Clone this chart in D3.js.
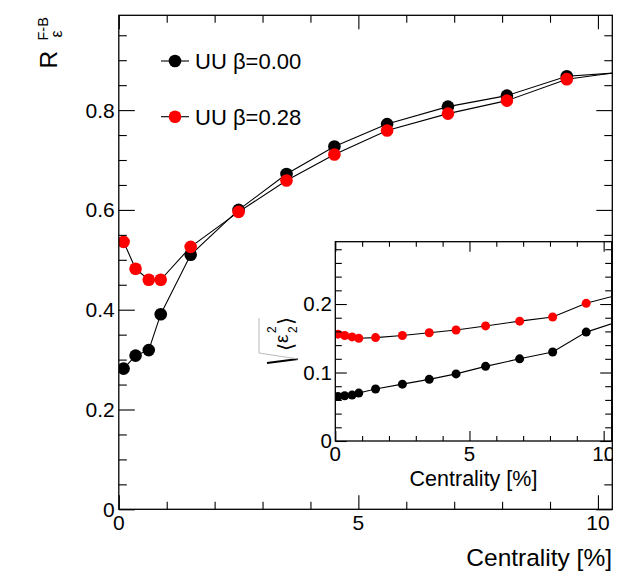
<!DOCTYPE html>
<html lang="en">

<head>
    <meta charset="UTF-8">
    <title>R F-B vs centrality</title>

    <script src="https://d3js.org/d3.v7.min.js"></script>

    <style>
        body {
            margin: 0;
            background: #fff;
        }

        text {
            font-family: "Liberation Sans", Arial, sans-serif;
            fill: #000;
        }
    </style>

</head>

<body>
    <svg width="623" height="587"></svg>

    <script>
        // centrality bins (last one sits just past the frame and is clipped)
        const centrality = [0.1, 0.35, 0.625, 0.875, 1.5, 2.5, 3.5, 4.5, 5.6, 6.87, 8.1, 9.35, 10.6];

        // forward-backward eccentricity correlation
        const rfbBeta000 = [0.282, 0.308, 0.319, 0.391, 0.510, 0.600, 0.672, 0.727, 0.772, 0.807, 0.829, 0.868, 0.876];
        const rfbBeta028 = [0.536, 0.482, 0.460, 0.460, 0.526, 0.596, 0.659, 0.711, 0.759, 0.793, 0.819, 0.862, 0.878];

        // inset: sqrt(<eps_2^2>)
        const eccBeta000 = [0.065, 0.066, 0.067, 0.070, 0.076, 0.083, 0.090, 0.098, 0.109, 0.120, 0.130, 0.159, 0.175];
        const eccBeta028 = [0.156, 0.154, 0.152, 0.150, 0.151, 0.154, 0.158, 0.162, 0.168, 0.175, 0.181, 0.201, 0.214];

        const legendLabels = ["UU \u03b2=0.00", "UU \u03b2=0.28"];
        const seriesColors = ["#000000", "#ff0000"];

        const mainYTicks = [0, 0.2, 0.4, 0.6, 0.8];
        const insetYTicks = [0, 0.1, 0.2];
        const xTicks = [0, 5, 10];

        let svg = d3.select("svg");

        function fmtY(d) { return d === 0 ? "0" : d3.format(".1f")(d); }

        // frame with ROOT-style ticks on all four sides
        function drawFrame(g, x, y, o) {
            const [x0, x1] = x.range();
            const [y0, y1] = y.range();

            g.append("rect")
                .attr("x", x0).attr("y", y1)
                .attr("width", x1 - x0).attr("height", y0 - y1)
                .attr("fill", o.fill || "none")
                .attr("stroke", "#000").attr("stroke-width", 1.3);

            const xMinor = d3.range(0, 11, 1).filter(v => xTicks.indexOf(v) < 0);
            const yMinor = d3.range(0, y.domain()[1], o.yMinorStep)
                .map(v => +v.toFixed(3))
                .filter(v => o.yTicks.indexOf(v) < 0);

            const sides = [
                [d3.axisBottom, x, y0, o.xMaj, o.xMin, xTicks, xMinor],
                [d3.axisTop, x, y1, o.xMaj, o.xMin, xTicks, xMinor],
                [d3.axisLeft, y, x0, o.yMaj, o.yMin, o.yTicks, yMinor],
                [d3.axisRight, y, x1, o.yMaj, o.yMin, o.yTicks, yMinor]
            ];
            sides.forEach(function (s) {
                const horiz = s[0] === d3.axisBottom || s[0] === d3.axisTop;
                [[s[5], s[3]], [s[6], s[4]]].forEach(function (t) {
                    const ax = g.append("g")
                        .attr("transform", horiz ? `translate(0,${s[2]})` : `translate(${s[2]},0)`)
                        .call(s[0](s[1]).tickValues(t[0]).tickSizeInner(-t[1])
                            .tickSizeOuter(0).tickFormat(""));
                    ax.select(".domain").remove();
                    ax.selectAll("line").attr("stroke", "#000").attr("stroke-width", 1.1);
                });
            });

            // labels
            g.append("g").attr("clip-path", o.clip)
                .selectAll("text.xl").data(xTicks).enter().append("text")
                .attr("x", d => x(d)).attr("y", y0 + o.xLabelDy)
                .attr("text-anchor", "middle")
                .attr("font-size", o.labelSize)
                .text(d => d);

            g.selectAll("text.yl").data(o.yTicks).enter().append("text")
                .attr("x", x0 - o.yLabelDx).attr("y", d => y(d) + o.labelSize * 0.36)
                .attr("text-anchor", "end")
                .attr("font-size", o.labelSize)
                .text(fmtY);
        }

        function drawSeries(g, x, y, xs, ys, color, r) {
            const pts = xs.map((v, i) => [v, ys[i]]);
            const line = d3.line().x(d => x(d[0])).y(d => y(d[1]));
            g.append("path")
                .attr("d", line(pts))
                .attr("fill", "none")
                .attr("stroke", "#000")
                .attr("stroke-width", 1.1);
            g.selectAll(null).data(pts).enter().append("circle")
                .attr("cx", d => x(d[0])).attr("cy", d => y(d[1]))
                .attr("r", r)
                .attr("fill", color);
        }

        // ---------------- main pad ----------------
        const x = d3.scaleLinear().domain([0, 10.3]).range([118.8, 612.3]);
        const y = d3.scaleLinear().domain([0, 0.99]).range([509.3, 15.3]);

        svg.append("clipPath").attr("id", "mainClip").append("rect")
            .attr("x", 118.8).attr("y", 15.3).attr("width", 493.5).attr("height", 494);

        let main = svg.append("g");
        let mainData = main.append("g").attr("clip-path", "url(#mainClip)");
        drawSeries(mainData, x, y, centrality, rfbBeta000, seriesColors[0], 6.3);
        drawSeries(mainData, x, y, centrality, rfbBeta028, seriesColors[1], 6.3);

        drawFrame(main, x, y, {
            yTicks: mainYTicks, yMinorStep: 0.05,
            xMaj: 14, xMin: 7.5, yMaj: 16, yMin: 8,
            labelSize: 21, xLabelDy: 21, yLabelDx: 4
        });

        main.append("text")
            .attr("x", 612).attr("y", 566)
            .attr("text-anchor", "end")
            .attr("font-size", 24.5)
            .text("Centrality [%]");

        // y title R^{F-B}_{eps}
        let yTitle = main.append("g");
        yTitle.append("text").attr("transform", "translate(56.5,68.5) rotate(-90)")
            .attr("font-size", 24.5).text("R");
        yTitle.append("text").attr("transform", "translate(48,40.5) rotate(-90)")
            .attr("font-size", 14.5).text("F-B");
        yTitle.append("text").attr("transform", "translate(62,37.5) rotate(-90)")
            .attr("font-size", 16).text("\u03b5");

        // legend
        let legend = main.append("g");
        legendLabels.forEach(function (lab, i) {
            const ly = [61, 116.7][i];
            legend.append("line")
                .attr("x1", 161).attr("x2", 189).attr("y1", ly).attr("y2", ly)
                .attr("stroke", "#000").attr("stroke-width", 1.1);
            legend.append("circle").attr("cx", 175).attr("cy", ly).attr("r", 6.3)
                .attr("fill", seriesColors[i]);
            legend.append("text").attr("x", 195).attr("y", ly + 7.8)
                .attr("font-size", 22).text(lab);
        });

        // ---------------- inset pad ----------------
        const xi = d3.scaleLinear().domain([0, 10.3]).range([335.3, 611.7]);
        const yi = d3.scaleLinear().domain([0, 0.291]).range([441, 241.7]);

        svg.append("clipPath").attr("id", "insetClip").append("rect")
            .attr("x", 335.3).attr("y", 241.7).attr("width", 276.4).attr("height", 199.3);
        svg.append("clipPath").attr("id", "insetPad").append("rect")
            .attr("x", 250).attr("y", 230).attr("width", 362.5).attr("height", 300);

        let inset = svg.append("g");
        inset.append("rect")
            .attr("x", 335.3).attr("y", 241.7).attr("width", 276.4).attr("height", 199.3)
            .attr("fill", "#fff");
        let insetData = inset.append("g").attr("clip-path", "url(#insetClip)");
        drawSeries(insetData, xi, yi, centrality, eccBeta000, seriesColors[0], 4.5);
        drawSeries(insetData, xi, yi, centrality, eccBeta028, seriesColors[1], 4.5);

        drawFrame(inset, xi, yi, {
            yTicks: insetYTicks, yMinorStep: 0.02,
            xMaj: 10, xMin: 5, yMaj: 11.5, yMin: 6.5,
            labelSize: 20.5, xLabelDy: 19.5, yLabelDx: 3.5,
            clip: "url(#insetPad)"
        });

        inset.append("text")
            .attr("x", 473.5).attr("y", 486)
            .attr("text-anchor", "middle")
            .attr("font-size", 21.5)
            .text("Centrality [%]");

        // y title sqrt(<eps_2^2>)
        let iy = inset.append("g").attr("transform", "translate(288,352) rotate(-90)");
        iy.append("path").attr("d", "M-11,-21L-7,10")
            .attr("stroke", "#000").attr("stroke-width", 2).attr("fill", "none");
        iy.append("path").attr("d", "M-7,10L-1,-29L34,-29")
            .attr("stroke", "#bbb").attr("stroke-width", 1).attr("fill", "none");
        iy.append("text").attr("x", 1).attr("y", 5).attr("font-size", 21).text("\u27e8");
        iy.append("text").attr("x", 9).attr("y", 0).attr("font-size", 19).text("\u03b5");
        iy.append("text").attr("x", 19).attr("y", -12).attr("font-size", 12).text("2");
        iy.append("text").attr("x", 19).attr("y", 9).attr("font-size", 12).text("2");
        iy.append("text").attr("x", 27).attr("y", 5).attr("font-size", 21).text("\u27e9");
    </script>
</body>

</html>
